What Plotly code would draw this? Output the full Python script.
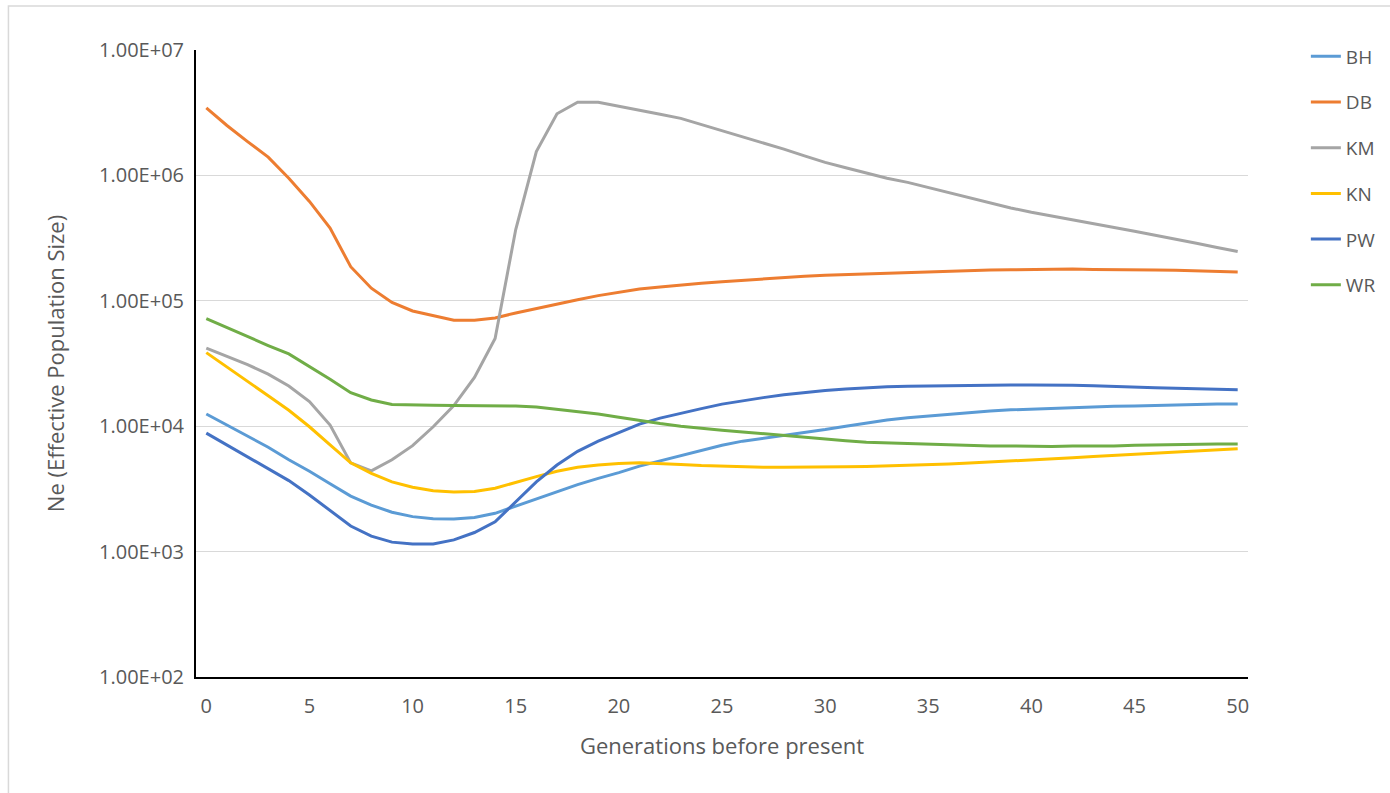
import plotly.graph_objects as go

# Generations before present (0 .. 50)
generations = list(range(51))

# Effective population size per population
BH = [12500, 10200, 8350, 6800, 5400, 4370, 3480, 2770, 2350, 2060,
      1900, 1830, 1820, 1870, 2020, 2310, 2630, 2990, 3420, 3840,
      4260, 4800, 5300, 5860, 6460, 7050, 7600, 8000, 8400, 8900,
      9400, 10000, 10600, 11200, 11700, 12100, 12500, 12900, 13200, 13500,
      13700, 13900, 14100, 14300, 14400, 14500, 14700, 14800, 14900, 15000,
      15000]
DB = [3450000, 2500000, 1860000, 1400000, 950000, 620000, 380000, 187000, 126000, 97000,
      83000, 76000, 70000, 70000, 73000, 80000, 87000, 95000, 102000, 110000,
      117000, 124000, 129000, 134000, 138000, 142000, 146000, 150000, 154000, 157000,
      160000, 162000, 165000, 167000, 169000, 171000, 173000, 175000, 176000, 177000,
      178000, 178000, 179000, 178000, 178000, 177000, 176000, 175000, 173000, 171000,
      170000]
KM = [42000, 36000, 31000, 26000, 20900, 15700, 10200, 5100, 4400, 5400,
      7000, 9900, 14600, 24500, 50000, 370000, 1550000, 3100000, 3830000, 3830000,
      3570000, 3300000, 3070000, 2850000, 2550000, 2290000, 2040000, 1810000, 1620000, 1430000,
      1270000, 1150000, 1040000, 950000, 880000, 800000, 730000, 660000, 606000, 550000,
      508000, 474000, 447000, 417000, 388000, 358000, 333000, 311000, 288000, 266000,
      247000]
KN = [38600, 29500, 22900, 17500, 13400, 9900, 7100, 5100, 4200, 3600,
      3260, 3060, 2990, 3020, 3200, 3570, 3960, 4370, 4700, 4900,
      5050, 5100, 5050, 4950, 4850, 4780, 4720, 4700, 4700, 4700,
      4700, 4750, 4780, 4820, 4880, 4930, 5000, 5080, 5170, 5270,
      5370, 5500, 5600, 5720, 5830, 5970, 6100, 6230, 6360, 6480,
      6600]
PW = [8800, 7050, 5700, 4580, 3680, 2830, 2130, 1600, 1330, 1190,
      1150, 1150, 1240, 1420, 1730, 2500, 3600, 4900, 6300, 7600,
      8900, 10400, 11600, 12700, 13800, 15000, 16000, 16900, 17800, 18600,
      19300, 19800, 20300, 20600, 20800, 20900, 21100, 21300, 21300, 21300,
      21300, 21300, 21200, 21000, 20700, 20500, 20300, 20100, 19900, 19700,
      19500]
WR = [72000, 61000, 52000, 44000, 37700, 30000, 23700, 18500, 16200, 14900,
      14700, 14700, 14600, 14500, 14500, 14500, 14200, 13600, 13000, 12500,
      11800, 11100, 10500, 10000, 9600, 9300, 9000, 8700, 8450, 8100,
      7900, 7650, 7450, 7350, 7250, 7200, 7100, 7000, 6950, 6950,
      6900, 6900, 6950, 6950, 6950, 7050, 7100, 7100, 7150, 7200,
      7200]

series = [
    ("BH", BH, "#5B9BD5"),
    ("DB", DB, "#ED7D31"),
    ("KM", KM, "#A5A5A5"),
    ("KN", KN, "#FFC000"),
    ("PW", PW, "#4472C4"),
    ("WR", WR, "#70AD47"),
]

y_ticks = [1e2, 1e3, 1e4, 1e5, 1e6, 1e7]
y_tick_labels = ["1.00E+02", "1.00E+03", "1.00E+04", "1.00E+05", "1.00E+06", "1.00E+07"]
x_ticks = list(range(0, 51, 5))

font_family = "Open Sans, Noto Sans, sans-serif"
text_color = "#595959"

fig = go.Figure()
for name, values, color in series:
    fig.add_trace(go.Scatter(
        x=generations, y=values, name=name, mode="lines",
        line=dict(color=color, width=3),
        legendgroup=name,
    ))

fig.update_layout(
    width=1390, height=793,
    margin=dict(l=196, r=142, t=50, b=116, autoexpand=False),
    paper_bgcolor="white", plot_bgcolor="white",
    font=dict(family=font_family, color=text_color, size=19),
    showlegend=True,
    legend=dict(
        x=1.055, y=1.02, xanchor="left", yanchor="top",
        font=dict(size=19, color=text_color),
        tracegroupgap=18,
        bgcolor="rgba(0,0,0,0)",
    ),
    xaxis=dict(
        range=[-0.5, 50.5],
        tickmode="array", tickvals=x_ticks, ticktext=[str(t) for t in x_ticks],
        showgrid=False, zeroline=False,
        showline=True, linecolor="black", linewidth=2,
        ticks="", tickfont=dict(size=20, color=text_color),
        ticklabelstandoff=10,
        title=dict(text="Generations before present", font=dict(size=22, color=text_color), standoff=21),
    ),
    yaxis=dict(
        type="log", range=[2, 7],
        tickmode="array", tickvals=y_ticks, ticktext=y_tick_labels,
        showgrid=True, gridcolor="#d9d9d9", gridwidth=1,
        zeroline=False,
        showline=True, linecolor="black", linewidth=2,
        ticks="", tickfont=dict(size=20, color=text_color),
        ticklabelstandoff=6,
        title=dict(text="Ne (Effective Population Size)", font=dict(size=22, color=text_color), standoff=28),
    ),
)

# Light outer frame of the chart area
fig.add_shape(
    type="rect", xref="paper", yref="paper",
    x0=-0.1783, x1=1.25, y0=-0.3, y1=1.0702,
    line=dict(color="#d9d9d9", width=1.5), fillcolor="rgba(0,0,0,0)",
    layer="below",
)

fig.write_html("out.html")
